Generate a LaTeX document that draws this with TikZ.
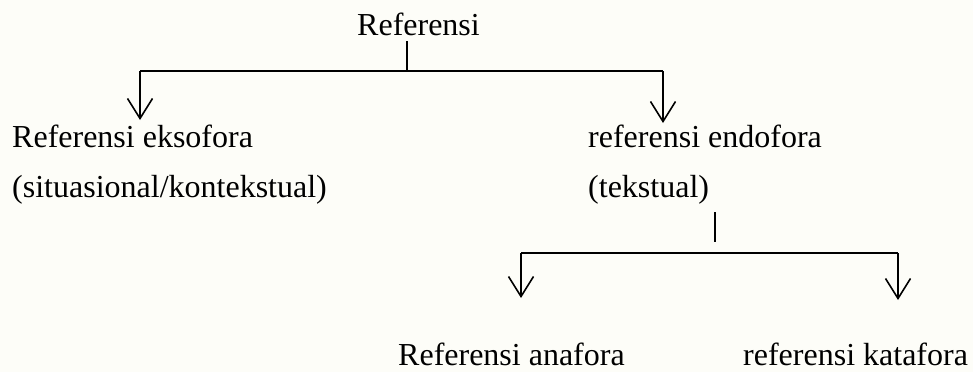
\documentclass[tikz,border=0pt]{standalone}
\usepackage{fontspec}
\setmainfont{Liberation Serif}
\usetikzlibrary{arrows.meta}
\definecolor{paper}{HTML}{FDFDF8}
\begin{document}
\begin{tikzpicture}[x=1pt,y=-1pt,
  lbl/.style={anchor=base west,inner sep=0pt,font=\fontsize{32}{38}\selectfont},
  wire/.style={line width=1.6pt},
  down/.style={wire,-{Straight Barb[length=20pt,width=25pt,line width=1.6pt]}}]
  % page area
  \fill[paper] (0,0) rectangle (973,372);
  \useasboundingbox (0,0) rectangle (973,372);

  % labels
  \node[lbl] (ref)  at (357,35)  {Referensi};
  \node[lbl] (eks)  at (12,147)  {Referensi eksofora};
  \node[lbl] (sit)  at (12,197)  {(situasional/kontekstual)};
  \node[lbl] (endo) at (588,147) {referensi endofora};
  \node[lbl] (teks) at (588,197) {(tekstual)};
  \node[lbl] (ana)  at (398,365) {Referensi anafora};
  \node[lbl] (kata) at (743,365) {referensi katafora};

  % first branching
  \coordinate (j1) at (407,71);
  \coordinate (l1) at (140,71);
  \coordinate (r1) at (663,71);
  \coordinate (tl1) at (140,120);
  \coordinate (tr1) at (663,123);
  \draw[wire] (407,41) -- (j1);
  \draw[wire] (l1) -- (r1);
  \draw[down] (l1) -- (tl1);
  \draw[down] (r1) -- (tr1);

  % second branching
  \coordinate (s2) at (715,212);
  \coordinate (j2) at (715,242);
  \coordinate (l2) at (521,253);
  \coordinate (r2) at (898,253);
  \coordinate (tl2) at (521,298);
  \coordinate (tr2) at (898,300);
  \draw[wire] (s2) -- (j2);
  \draw[wire] (l2) -- (r2);
  \draw[down] (l2) -- (tl2);
  \draw[down] (r2) -- (tr2);
\end{tikzpicture}
\end{document}
